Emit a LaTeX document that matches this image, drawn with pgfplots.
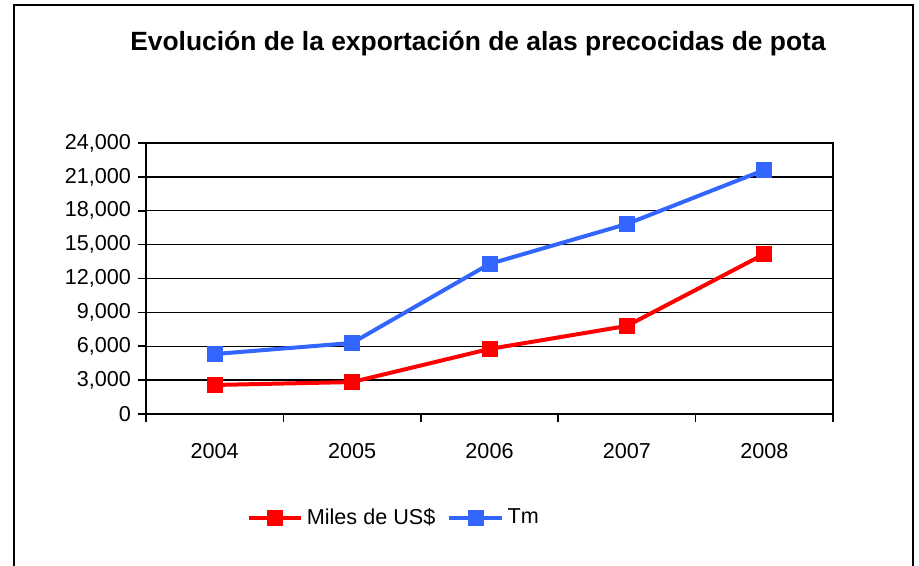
\documentclass[border=0pt]{standalone}
\usepackage{fontspec}
\setmainfont{Liberation Sans}
\usepackage{pgfplots}
\pgfplotsset{compat=1.18}

\definecolor{serieRed}{RGB}{255,0,0}
\definecolor{serieBlue}{RGB}{51,102,255}

\begin{document}
\begin{tikzpicture}[font=\fontsize{10.8}{12}\selectfont]
% 1px of the reference = 0.5pt; origin at the bottom-left corner
\useasboundingbox (0,0) rectangle (459.5pt,283pt);
% outer frame (bottom edge lies below the visible area)
\draw[line width=1pt] (7pt,-20pt) -- (7pt,280.5pt) -- (456.5pt,280.5pt) -- (456.5pt,-20pt);
\node[font=\fontsize{13.2}{15}\selectfont\bfseries] at (239pt,261pt) {Evolución de la exportación de alas precocidas de pota};

\begin{axis}[
  at={(73pt,76pt)}, anchor=south west,
  scale only axis,
  width=343.5pt, height=135.5pt,
  xmin=-0.5, xmax=4.5,
  ymin=0, ymax=24000,
  xtick={0,1,2,3,4},
  xticklabels={2004,2005,2006,2007,2008},
  minor xtick={-0.5,0.5,1.5,2.5,3.5,4.5},
  major x tick style={draw=none},
  minor x tick style={black, line width=0.8pt},
  ytick={0,3000,...,24000},
  ytick style={black, line width=0.8pt},
  tick align=outside,
  major tick length=4pt, minor tick length=4pt,
  xtick pos=bottom, ytick pos=left,
  axis line style={black, line width=1pt},
  ymajorgrids,
  grid style={black, line width=0.7pt},
  scaled y ticks=false,
  yticklabel style={/pgf/number format/.cd, fixed, 1000 sep={,}, assume math mode=true},
  xticklabel style={yshift=-7pt},
  legend style={at={(0.362,-0.384)}, anchor=center, draw=none, fill=none,
    legend columns=2, font=\fontsize{10.8}{12}\selectfont,
    /tikz/every even column/.append style={column sep=4pt}},
  legend image code/.code={%
    \draw[mark repeat=2,mark phase=2] plot coordinates {(0cm,0cm) (0.46cm,0cm) (0.92cm,0cm)};},
  legend cell align=left,
]
\addplot[serieRed, line width=2pt, mark=square*, mark size=3pt] coordinates {
  (0,2570) (1,2830) (2,5760) (3,7800) (4,14170)
};
\addlegendentry{Miles de US\$}
\addplot[serieBlue, line width=2pt, mark=square*, mark size=3pt] coordinates {
  (0,5310) (1,6290) (2,13290) (3,16830) (4,21610)
};
\addlegendentry{Tm}
\end{axis}
\end{tikzpicture}
\end{document}
